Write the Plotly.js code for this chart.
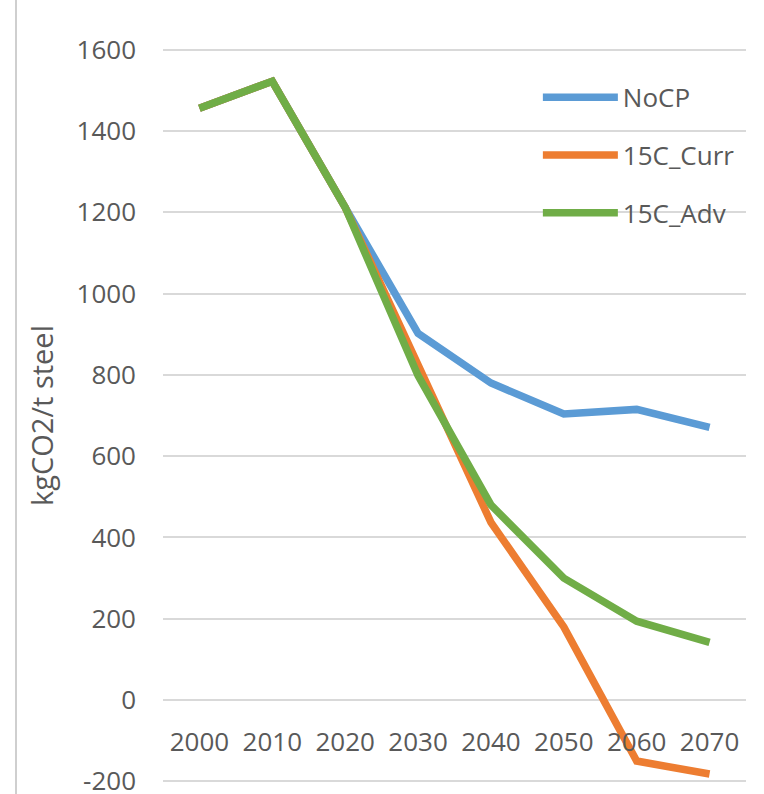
<!DOCTYPE html>
<html>
<head>
<meta charset="utf-8">
<script src="https://cdn.plot.ly/plotly-3.0.1.min.js"></script>
<style>
  html, body { margin: 0; padding: 0; background: #ffffff; }
  #chart { width: 764px; height: 794px; }
</style>
</head>
<body>
<div id="chart"></div>
<script>
const years = ["2000", "2010", "2020", "2030", "2040", "2050", "2060", "2070"];
const noCP = [1456, 1522, 1212, 902, 780, 704, 715, 671];
const c15Curr = [1456, 1522, 1212, 820, 437, 180, -150, -182];
const c15Adv = [1456, 1522, 1212, 798, 480, 300, 194, 142];
const seriesNames = ["NoCP", "15C_Curr", "15C_Adv"];
const seriesColors = ["#5B9BD5", "#ED7D31", "#70AD47"];
const yTicks = [-200, 0, 200, 400, 600, 800, 1000, 1200, 1400, 1600];
const yTickLabels = ["-200", "0", "200", "400", "600", "800", "1000", "1200", "1400", "1600"];

const seriesData = [noCP, c15Curr, c15Adv];
const traces = seriesData.map((vals, i) => ({
  type: "scatter",
  mode: "lines",
  x: years,
  y: vals,
  name: seriesNames[i],
  legendgroup: "g" + i,
  line: { color: seriesColors[i], width: 7.5 },
  hoverinfo: "skip"
}));

const txt = "#595959";
const fontFam = "'Open Sans', 'Liberation Sans', sans-serif";

// plot area: y=-200 at px 781, y=1600 at px 50 -> 0.40611 px/unit
const pad = 4; // data units of padding each end so end gridlines are drawn
const pxPerUnit = 731 / 1800;
const yRange = [-200 - pad, 1600 + pad];
const layout = {
  width: 764,
  height: 794,
  margin: { l: 163, r: 18, t: 50 - pad * pxPerUnit, b: 13 - pad * pxPerUnit },
  paper_bgcolor: "#ffffff",
  plot_bgcolor: "#ffffff",
  font: { family: fontFam, color: txt, size: 26 },
  showlegend: true,
  legend: {
    x: 0.643, xanchor: "left",
    y: 0.965, yanchor: "top",
    bgcolor: "rgba(0,0,0,0)",
    font: { family: fontFam, size: 26, color: txt },
    traceorder: "grouped",
    tracegroupgap: 21,
    itemwidth: 75
  },
  xaxis: {
    type: "category",
    range: [-0.5, 7.5],
    anchor: "free",
    position: (200 + pad) / (1800 + 2 * pad),
    showgrid: false,
    showline: false,
    zeroline: false,
    ticks: "",
    ticklabelstandoff: 24,
    tickfont: { family: fontFam, size: 26, color: txt },
    fixedrange: true
  },
  yaxis: {
    range: yRange,
    tickmode: "array",
    tickvals: yTicks,
    ticktext: yTickLabels,
    showgrid: true,
    gridcolor: "#D9D9D9",
    gridwidth: 2,
    zeroline: false,
    showline: false,
    ticks: "",
    ticklabelstandoff: 26,
    ticklabeloverflow: "allow",
    tickfont: { family: fontFam, size: 26, color: txt },
    title: { text: "kgCO2/t steel", font: { family: fontFam, size: 29, color: txt }, standoff: 14 },
    fixedrange: true
  },
  shapes: [
    { type: "line", xref: "paper", yref: "paper",
      x0: (16 - 163) / 583, x1: (16 - 163) / 583,
      y0: 1.07, y1: -0.03,
      line: { color: "#BFBFBF", width: 1.5 } }
  ]
};

Plotly.newPlot("chart", traces, layout, { staticPlot: true, displayModeBar: false });
</script>
</body>
</html>
